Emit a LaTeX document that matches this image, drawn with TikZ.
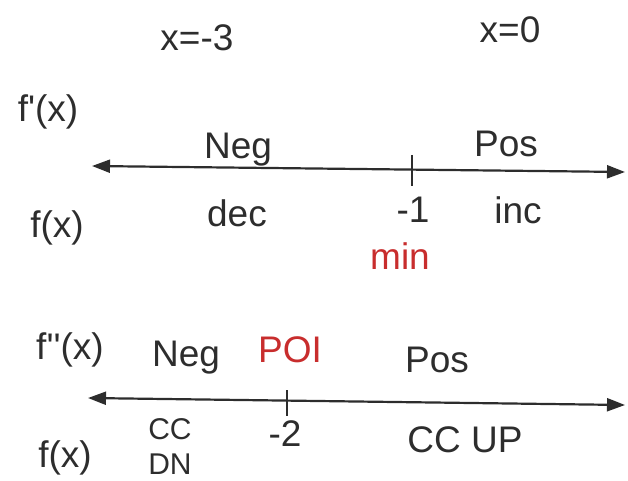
\documentclass[tikz,border=0pt]{standalone}
\usepackage{fontspec}
\setmainfont{Liberation Sans}
\usetikzlibrary{arrows.meta}
\definecolor{ink}{RGB}{45,45,45}
\definecolor{redink}{RGB}{200,45,45}
\begin{document}
\begin{tikzpicture}[x=1pt,y=-1pt,
  lbl/.style={text=ink,inner sep=0pt,font=\fontsize{37}{40}\selectfont},
  slbl/.style={lbl,font=\fontsize{30}{32}\selectfont},
  rlbl/.style={lbl,text=redink},
  numline/.style={draw=ink,line width=2.2pt,{Triangle[length=18pt,width=13pt]}-{Triangle[length=18pt,width=13pt]}},
  tick/.style={draw=ink,line width=2.2pt}]
\useasboundingbox (0,0) rectangle (628,481);
% top labels
\node[lbl] (xm3) at (197,38) {x=-3};
\node[lbl] (x0) at (510,30) {x=0};
% first line
\node[lbl] (fp) at (48,112) {f\textquotesingle(x)};
\node[lbl] (neg1) at (238,150) {Neg};
\node[lbl] (pos1) at (506,144) {Pos};
\coordinate (l1a) at (92,166);
\coordinate (l1b) at (625,172);
\draw[numline] (l1a) -- (l1b);
\coordinate (t1a) at (412,155);
\coordinate (t1b) at (412,186);
\draw[tick] (t1a) -- (t1b);
\node[lbl] (f1) at (57,228) {f(x)};
\node[lbl] (dec) at (237,213) {dec};
\node[lbl] (m1) at (413,210) {-1};
\node[lbl] (inc) at (518,210) {inc};
\node[rlbl] (min) at (400,256) {min};
% second line
\node[lbl] (fpp) at (70,350) {f\textquotesingle\textquotesingle(x)};
\node[lbl] (neg2) at (186,358) {Neg};
\node[rlbl] (poi) at (290,350) {POI};
\node[lbl] (pos2) at (437,360) {Pos};
\coordinate (l2a) at (88,398);
\coordinate (l2b) at (625,405);
\draw[numline] (l2a) -- (l2b);
\coordinate (t2a) at (287,390);
\coordinate (t2b) at (287,416);
\draw[tick] (t2a) -- (t2b);
\node[slbl] (cc) at (170,429) {CC};
\node[slbl] (dn) at (170,464) {DN};
\node[lbl] (m2) at (285,434) {-2};
\node[lbl] (ccup) at (465,440) {CC UP};
\node[lbl] (f2) at (65,458) {f(x)};
\end{tikzpicture}
\end{document}
